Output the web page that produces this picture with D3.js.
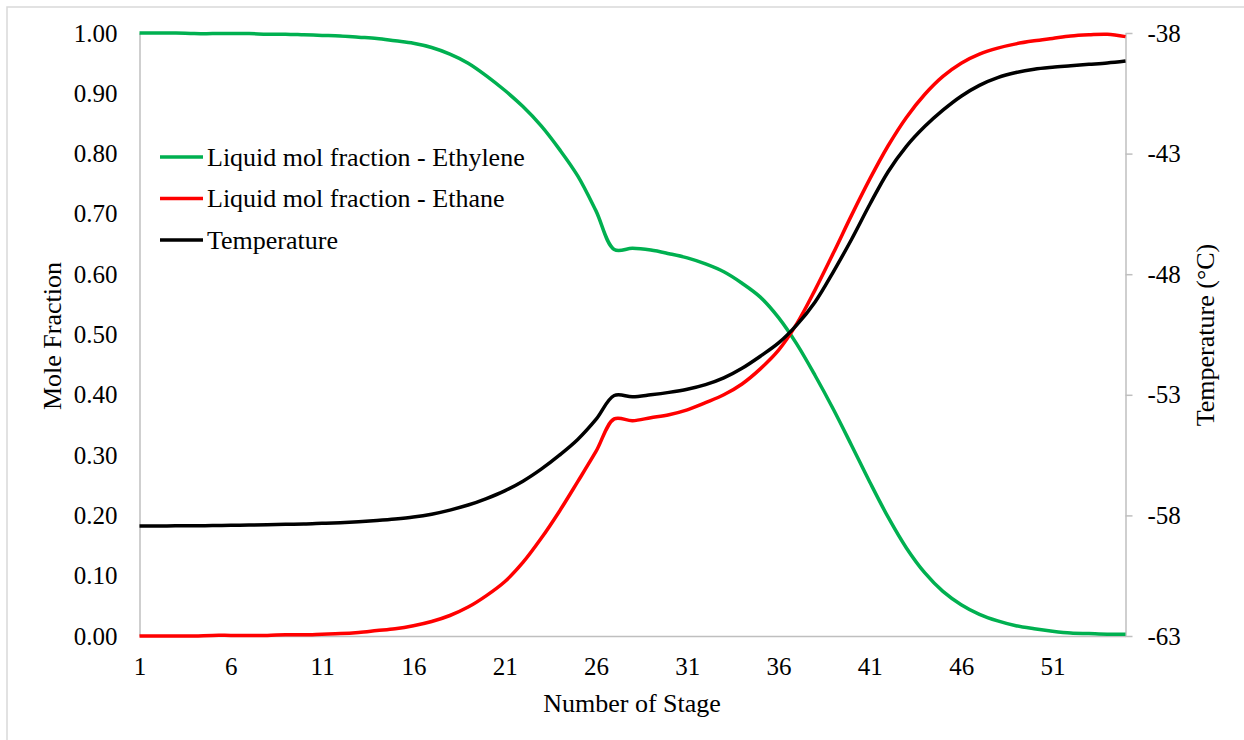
<!DOCTYPE html>
<html>
<head>
<meta charset="utf-8">
<script src="https://cdn.jsdelivr.net/npm/d3@7"></script>
<style>
  body { margin: 0; background: #fff; }
  svg { display: block; }
  text { font-family: "Liberation Serif", "Times New Roman", serif; fill: #000; }
</style>
</head>
<body>
<svg id="chart" width="1244" height="740"></svg>
<script>
// Column stage numbers
const stages = [1,2,3,4,5,6,7,8,9,10,11,12,13,14,15,16,17,18,19,20,
  21,22,23,24,25,26,27,28,29,30,31,32,33,34,35,36,37,38,39,40,
  41,42,43,44,45,46,47,48,49,50,51,52,53,54,55];

// Liquid mole fraction of ethylene per stage
const ethylene = [1.000,1.000,1.000,0.999,0.999,0.999,0.999,0.998,0.998,0.997,
  0.996,0.995,0.993,0.991,0.987,0.983,0.976,0.965,0.950,0.929,
  0.905,0.878,0.846,0.807,0.763,0.705,0.641,0.643,0.640,0.634,
  0.627,0.617,0.604,0.585,0.562,0.528,0.484,0.432,0.376,0.316,
  0.255,0.197,0.146,0.105,0.074,0.052,0.036,0.025,0.017,0.012,
  0.008,0.005,0.004,0.003,0.003];

// Liquid mole fraction of ethane per stage
const ethane = [0.000,0.000,0.000,0.000,0.001,0.001,0.001,0.001,0.002,0.002,
  0.003,0.004,0.006,0.009,0.012,0.017,0.024,0.034,0.048,0.067,
  0.090,0.122,0.162,0.207,0.256,0.306,0.360,0.357,0.362,0.367,
  0.375,0.387,0.400,0.418,0.443,0.474,0.518,0.574,0.635,0.698,
  0.758,0.813,0.860,0.898,0.928,0.950,0.965,0.975,0.982,0.987,
  0.991,0.995,0.997,0.998,0.994];

// Stage temperature, °C
const temperature = [-58.44,-58.44,-58.43,-58.43,-58.42,-58.41,-58.40,-58.39,-58.37,-58.36,
  -58.33,-58.30,-58.26,-58.21,-58.15,-58.07,-57.95,-57.78,-57.57,-57.30,
  -56.98,-56.58,-56.08,-55.50,-54.85,-54.02,-53.03,-53.08,-53.00,-52.90,
  -52.77,-52.58,-52.30,-51.90,-51.40,-50.85,-50.10,-49.15,-47.90,-46.55,
  -45.10,-43.75,-42.70,-41.88,-41.20,-40.62,-40.17,-39.85,-39.64,-39.50,
  -39.42,-39.36,-39.30,-39.24,-39.16];

// Axis tick values
const xTicks = [1,6,11,16,21,26,31,36,41,46,51];
const yLeftTicks = [0,0.1,0.2,0.3,0.4,0.5,0.6,0.7,0.8,0.9,1.0];
const yRightTicks = [-63,-58,-53,-48,-43,-38];

const seriesNames = ["Liquid mol fraction - Ethylene", "Liquid mol fraction - Ethane", "Temperature"];
const seriesColors = ["#00B050", "#FF0000", "#000000"];

const svg = d3.select("#chart");
const plot = { left: 139.5, right: 1125.5, top: 33, bottom: 636 };
const axisGray = "#BFBFBF";
const serif = '"Liberation Serif", "Times New Roman", serif';

// Outer frame of the chart area
svg.append("rect")
  .attr("x", 7).attr("y", 7).attr("width", 1250).attr("height", 750)
  .attr("fill", "none").attr("stroke", "#D9D9D9").attr("stroke-width", 1.5);

const x = d3.scaleLinear().domain([1, 55]).range([plot.left, plot.right]);
const yL = d3.scaleLinear().domain([0, 1]).range([plot.bottom, plot.top]);
const yR = d3.scaleLinear().domain([-63, -38]).range([plot.bottom, plot.top]);

function styleAxis(g) {
  g.select(".domain").attr("stroke", axisGray).attr("stroke-width", 1.5);
  g.selectAll(".tick line").attr("stroke", axisGray).attr("stroke-width", 1.5);
  g.selectAll(".tick text").attr("font-size", 25).attr("fill", "#000")
    .style("font-family", serif);
}

// Bottom axis (stage numbers)
svg.append("g")
  .attr("transform", `translate(0,${plot.bottom})`)
  .call(d3.axisBottom(x).tickValues(xTicks).tickFormat(d => String(d))
    .tickSize(0).tickSizeOuter(0).tickPadding(21))
  .call(styleAxis);

// Left axis (mole fraction)
svg.append("g")
  .attr("transform", `translate(${plot.left},0)`)
  .call(d3.axisLeft(yL).tickValues(yLeftTicks).tickFormat(d3.format(".2f"))
    .tickSize(0).tickSizeOuter(0).tickPadding(22))
  .call(styleAxis);

// Right axis (temperature), plain hyphen for the negative sign
svg.append("g")
  .attr("transform", `translate(${plot.right},0)`)
  .call(d3.axisRight(yR).tickValues(yRightTicks).tickFormat(d => String(d))
    .tickSize(7).tickSizeOuter(0).tickPadding(15))
  .call(styleAxis);

// Axis titles
svg.append("text")
  .attr("x", 632).attr("y", 712).attr("text-anchor", "middle")
  .attr("font-size", 26).text("Number of Stage");
svg.append("text")
  .attr("transform", "translate(61,336) rotate(-90)").attr("text-anchor", "middle")
  .attr("font-size", 26).text("Mole Fraction");
svg.append("text")
  .attr("transform", "translate(1214,335) rotate(-90)").attr("text-anchor", "middle")
  .attr("font-size", 26).text("Temperature (°C)");

// Series lines
const lineL = d3.line().x((d, i) => x(stages[i])).y(d => yL(d)).curve(d3.curveCatmullRom.alpha(0.5));
const lineR = d3.line().x((d, i) => x(stages[i])).y(d => yR(d)).curve(d3.curveCatmullRom.alpha(0.5));

svg.append("path").datum(ethylene).attr("d", lineL)
  .attr("fill", "none").attr("stroke", seriesColors[0]).attr("stroke-width", 3.5).attr("stroke-linejoin", "round");
svg.append("path").datum(ethane).attr("d", lineL)
  .attr("fill", "none").attr("stroke", seriesColors[1]).attr("stroke-width", 3.5).attr("stroke-linejoin", "round");
svg.append("path").datum(temperature).attr("d", lineR)
  .attr("fill", "none").attr("stroke", seriesColors[2]).attr("stroke-width", 3.5).attr("stroke-linejoin", "round");

// Legend
const legend = svg.append("g");
seriesNames.forEach((name, i) => {
  const ly = 157 + i * 41.5;
  legend.append("line")
    .attr("x1", 160).attr("x2", 203).attr("y1", ly).attr("y2", ly)
    .attr("stroke", seriesColors[i]).attr("stroke-width", 3.5);
  legend.append("text")
    .attr("x", 207).attr("y", ly).attr("dy", "0.33em")
    .attr("font-size", 26).text(name);
});
</script>
</body>
</html>
